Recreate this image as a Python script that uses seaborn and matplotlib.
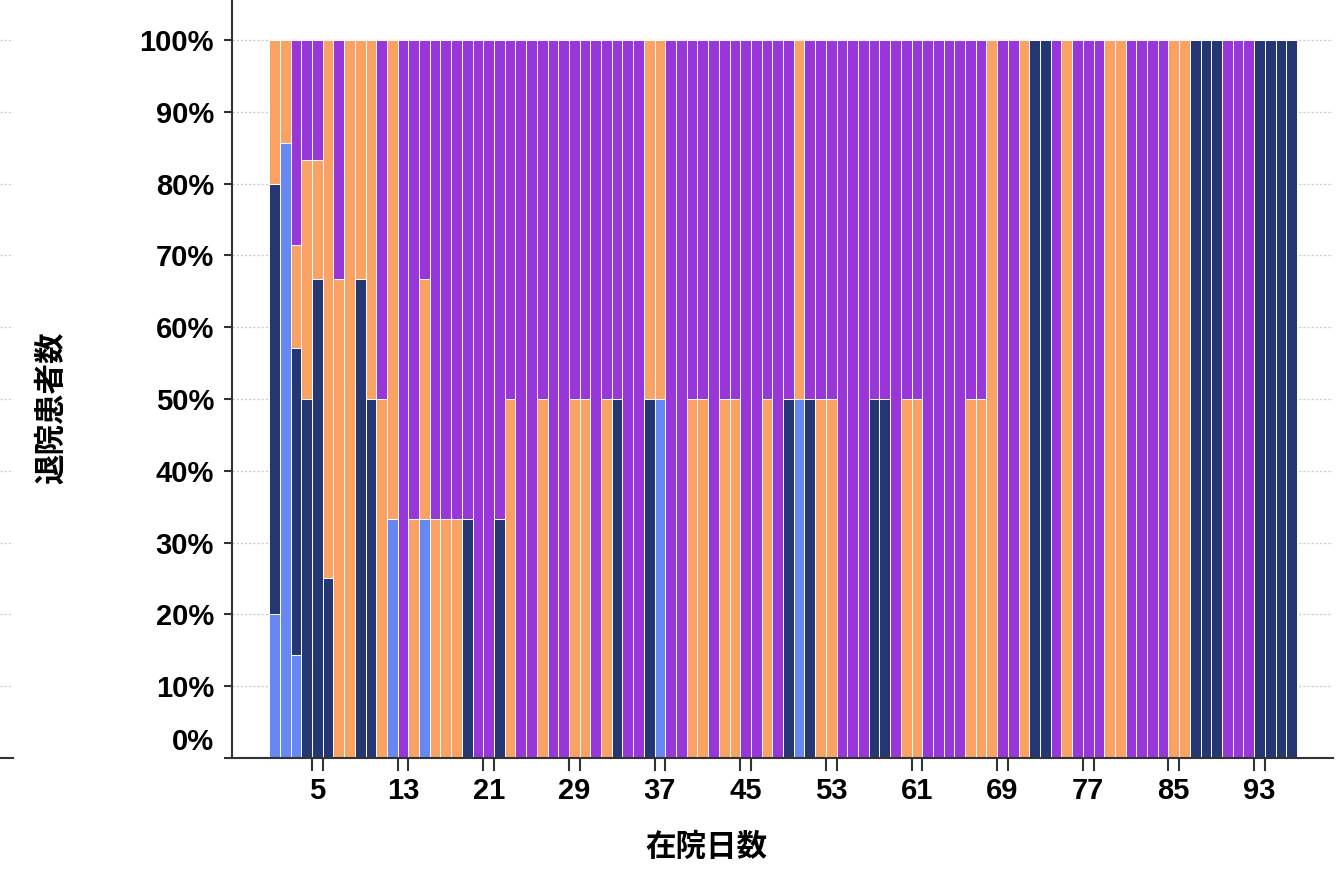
import numpy as np
import pandas as pd
import matplotlib
matplotlib.use("Agg")
import matplotlib.pyplot as plt
import matplotlib.transforms as mtransforms
from matplotlib.ticker import FixedLocator, PercentFormatter
import seaborn as sns

# ---------------- data ----------------
days = list(range(1, 97))
categories = ["区分D", "区分C", "区分B", "区分A"]   # stacking: top -> bottom
colors = ["#9936DA", "#F9A263", "#253772", "#6688F5"]

cat_a_light_blue = [1, 6, 1, 0, 0, 0, 0, 0, 0, 0,
                    0, 1, 0, 0, 1, 0, 0, 0, 0, 0,
                    0, 0, 0, 0, 0, 0, 0, 0, 0, 0,
                    0, 0, 0, 0, 0, 0, 1, 0, 0, 0,
                    0, 0, 0, 0, 0, 0, 0, 0, 0, 1,
                    0, 0, 0, 0, 0, 0, 0, 0, 0, 0,
                    0, 0, 0, 0, 0, 0, 0, 0, 0, 0,
                    0, 0, 0, 0, 0, 0, 0, 0, 0, 0,
                    0, 0, 0, 0, 0, 0, 0, 0, 0, 0,
                    0, 0, 0, 0, 0, 0]
cat_b_navy = [3, 0, 3, 3, 4, 1, 0, 0, 2, 1,
              0, 0, 0, 0, 0, 0, 0, 0, 1, 0,
              0, 1, 0, 0, 0, 0, 0, 0, 0, 0,
              0, 0, 1, 0, 0, 1, 0, 0, 0, 0,
              0, 0, 0, 0, 0, 0, 0, 0, 1, 0,
              1, 0, 0, 0, 0, 0, 1, 1, 0, 0,
              0, 0, 0, 0, 0, 0, 0, 0, 0, 0,
              0, 1, 1, 0, 0, 0, 0, 0, 0, 0,
              0, 0, 0, 0, 0, 0, 1, 1, 1, 0,
              0, 0, 1, 1, 1, 1]
cat_c_orange = [1, 1, 1, 2, 1, 3, 2, 1, 1, 1,
                1, 2, 0, 1, 1, 1, 1, 1, 0, 0,
                0, 0, 1, 0, 0, 1, 0, 0, 1, 1,
                0, 1, 0, 0, 0, 1, 1, 0, 0, 1,
                1, 0, 1, 1, 0, 0, 1, 0, 0, 1,
                0, 1, 1, 0, 0, 0, 0, 0, 0, 1,
                1, 0, 0, 0, 0, 1, 1, 1, 0, 0,
                1, 0, 0, 0, 1, 0, 0, 0, 1, 1,
                0, 0, 0, 0, 1, 1, 0, 0, 0, 0,
                0, 0, 0, 0, 0, 0]
cat_d_purple = [0, 0, 2, 1, 1, 0, 1, 0, 0, 0,
                1, 0, 1, 2, 1, 2, 2, 2, 2, 1,
                1, 2, 1, 1, 1, 1, 1, 1, 1, 1,
                1, 1, 1, 1, 1, 0, 0, 1, 1, 1,
                1, 1, 1, 1, 1, 1, 1, 1, 1, 0,
                1, 1, 1, 1, 1, 1, 1, 1, 1, 1,
                1, 1, 1, 1, 1, 1, 1, 0, 1, 1,
                0, 0, 0, 1, 0, 1, 1, 1, 0, 0,
                1, 1, 1, 1, 0, 0, 0, 0, 0, 1,
                1, 1, 0, 0, 0, 0]

tick_days = [5, 13, 21, 29, 37, 45, 53, 61, 69, 77, 85, 93]
y_ticks = [0, 0.1, 0.2, 0.3, 0.4, 0.5, 0.6, 0.7, 0.8, 0.9, 1.0]

series = {"区分A": cat_a_light_blue, "区分B": cat_b_navy,
          "区分C": cat_c_orange, "区分D": cat_d_purple}
df = pd.concat([pd.DataFrame({"在院日数": days, "区分": k, "人数": v})
                for k, v in series.items()], ignore_index=True)

# ---------------- style ----------------
sns.set_theme(style="white")
plt.rcParams["font.family"] = ["Liberation Sans", "Noto Sans CJK JP", "DejaVu Sans"]
plt.rcParams["font.weight"] = "bold"

W, H = 1336, 877
fig = plt.figure(figsize=(W / 100, H / 100), dpi=100)
ax_left, ax_right, ax_bottom, ax_top = 232, 1333, 758, 0
ax = fig.add_axes([ax_left / W, (H - ax_bottom) / H,
                   (ax_right - ax_left) / W, (ax_bottom - ax_top) / H])

sns.histplot(data=df, x="在院日数", hue="区分", weights="人数",
             multiple="fill", discrete=True, shrink=1,
             hue_order=categories, palette=dict(zip(categories, colors)),
             edgecolor="white", linewidth=0.7, alpha=1, legend=False, ax=ax)

ax.set_xlim(-2.975, 99.87)
ax.set_ylim(0, 1.0557)

grid_kw = dict(color="#cccccc", linestyle=(0, (1.5, 1.5)), linewidth=1.0)
ax.set_axisbelow(True)
ax.yaxis.grid(True, **grid_kw)
ax.xaxis.grid(False)

ax.set_yticks(y_ticks)
ax.yaxis.set_major_formatter(PercentFormatter(1.0, decimals=0))
ax.set_xticks(tick_days)
ax.set_xticklabels([str(d) for d in tick_days])
edges = sorted([d - 0.5 for d in tick_days] + [d + 0.5 for d in tick_days])
ax.xaxis.set_minor_locator(FixedLocator(edges))

for s in ["top", "right"]:
    ax.spines[s].set_visible(False)
for s in ["left", "bottom"]:
    ax.spines[s].set_color("#333333")
    ax.spines[s].set_linewidth(1.5)

ax.tick_params(axis="x", which="major", length=0, pad=14.0,
               labelsize=21, labelcolor="black")
ax.tick_params(axis="x", which="minor", length=9, width=1.5,
               color="#333333", direction="out")
ax.tick_params(axis="y", which="major", length=6, width=1.5,
               color="#333333", direction="out", pad=7,
               labelsize=21, labelcolor="black")
ax.tick_params(left=True, bottom=True)
ax.tick_params(axis="x", which="minor", bottom=True)

for lab in ax.get_xticklabels() + ax.get_yticklabels():
    lab.set_fontweight("bold")

# the 0% label sits a little above the axis line
zero_lab = ax.get_yticklabels()[0]
zero_lab.set_transform(zero_lab.get_transform() +
                       mtransforms.ScaledTranslation(0, 19 / 100, fig.dpi_scale_trans))

ax.set_xlabel("在院日数", fontsize=22, fontweight="bold", color="black",
              va="center", ha="center")
ax.xaxis.set_label_coords((706 - ax_left) / (ax_right - ax_left),
                          (ax_bottom - 848) / (ax_bottom - ax_top))
ax.set_ylabel("退院患者数", fontsize=22, fontweight="bold", color="black",
              va="center", ha="center", rotation=90)
ax.yaxis.set_label_coords((52 - ax_left) / (ax_right - ax_left),
                          (ax_bottom - 408) / (ax_bottom - ax_top))

# small clipped companion axes at the far left edge
ax2 = fig.add_axes([0, (H - ax_bottom) / H, 13 / W, (ax_bottom - ax_top) / H])
ax2.set_ylim(0, 1.0557)
ax2.set_xlim(0, 1)
ax2.set_yticks(y_ticks)
ax2.set_xticks([])
ax2.yaxis.grid(True, **grid_kw)
ax2.tick_params(axis="y", length=0, labelleft=False)
for s in ["top", "right", "left"]:
    ax2.spines[s].set_visible(False)
ax2.spines["bottom"].set_color("#333333")
ax2.spines["bottom"].set_linewidth(1.5)
ax2.set_facecolor("none")

fig.savefig("out.png", dpi=100)
